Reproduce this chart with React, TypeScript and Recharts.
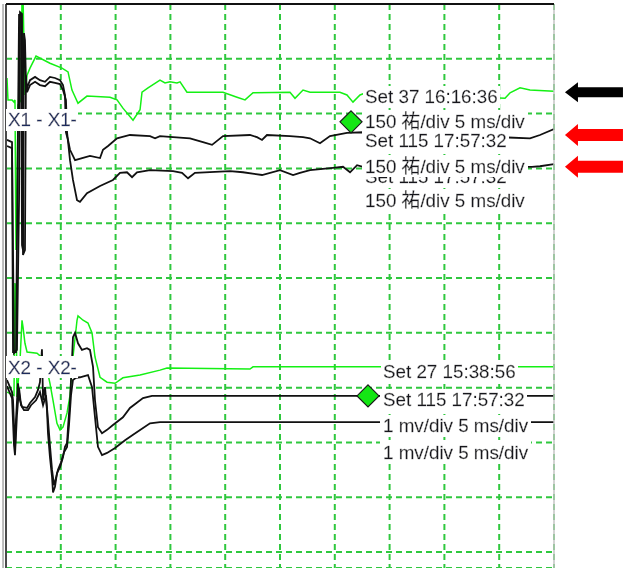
import { LineChart, Line, XAxis, YAxis, CartesianGrid, ReferenceLine, ReferenceDot } from "recharts";

// time in ms (5 ms/div), amplitude in divisions
const timeTicks = [5, 10, 15, 20, 25, 30, 35, 40, 45];
const divTicks = [0, 1, 2, 3, 4, 5, 6, 7, 8, 9];

const x1Green: [number, number][] = [
  [0.09, 8.65], [0.18, 8.25], [0.55, 8.25], [0.73, 8.21], [0.82, 8.25], [0.91, 5.51], [1.0, 6.42], [1.09, 8.16],
  [1.37, 8.25], [1.46, 10.16], [1.55, 10.16], [1.73, 8.34], [1.92, 8.7], [2.19, 8.83], [2.74, 9.05], [4.01, 8.92],
  [5.11, 8.83], [5.66, 8.76], [6.02, 8.43], [6.57, 8.19], [7.39, 8.32], [9.49, 8.3], [10.13, 8.25], [10.67, 8.1],
  [11.59, 7.88], [12.23, 8.07], [12.41, 8.39], [12.96, 8.47], [14.05, 8.61], [14.51, 8.56], [14.96, 8.58], [15.6, 8.56],
  [15.88, 8.58], [16.51, 8.39], [19.8, 8.39], [21.08, 8.3], [21.81, 8.25], [22.54, 8.38], [25.91, 8.39], [26.37, 8.28],
  [27.1, 8.43], [27.74, 8.39], [30.47, 8.39], [31.11, 8.34], [31.66, 8.21], [32.3, 8.34], [32.94, 8.39], [45.53, 8.28],
  [45.99, 8.38], [46.9, 8.47], [47.81, 8.43], [50, 8.41],
];

const x1BlackA: [number, number][] = [
  [0.09, 7.52], [0.55, 7.48], [0.64, 3.65], [0.91, 3.65], [1.09, 7.7], [1.19, 9.8], [1.37, 9.8], [1.46, 5.6],
  [1.55, 5.51], [1.64, 9.47], [1.73, 9.34], [1.82, 8.61], [1.92, 8.47], [2.19, 8.61], [2.65, 8.67], [3.1, 8.61],
  [3.56, 8.58], [4.01, 8.67], [4.47, 8.65], [4.93, 8.61], [5.2, 8.52], [5.38, 8.34], [5.47, 7.66], [5.66, 7.52],
  [5.84, 7.34], [6.3, 7.15], [7.66, 7.23], [8.58, 7.19], [8.85, 7.34], [9.31, 7.41], [10.13, 7.55], [11.31, 7.61],
  [13.14, 7.59], [13.6, 7.55], [14.05, 7.59], [15.24, 7.57], [16.79, 7.55], [17.97, 7.48], [18.8, 7.43], [19.8, 7.59],
  [22.26, 7.61], [22.9, 7.57], [23.36, 7.52], [23.81, 7.61], [25.91, 7.59], [27.1, 7.57], [27.74, 7.55], [28.65, 7.46],
  [29.56, 7.59], [31.11, 7.65], [32.57, 7.66], [47.81, 7.55], [48.72, 7.61], [50, 7.72],
];

const x1BlackB: [number, number][] = [
  [0.09, 7.41], [0.55, 7.37], [0.73, 3.63], [1.0, 3.69], [1.19, 6.42], [1.28, 9.85], [1.46, 9.82], [1.55, 5.42],
  [1.73, 5.51], [1.82, 8.7], [1.92, 8.39], [2.19, 8.52], [2.65, 8.58], [3.1, 8.52], [3.56, 8.5], [4.01, 8.58],
  [4.47, 8.56], [4.93, 8.54], [5.2, 8.43], [5.47, 8.25], [5.57, 7.66], [5.84, 7.15], [6.11, 6.79], [6.48, 6.42],
  [6.75, 6.39], [7.39, 6.55], [8.58, 6.68], [9.76, 6.79], [10.4, 6.92], [11.04, 6.93], [11.5, 6.84], [11.95, 6.93],
  [13.14, 6.97], [15.24, 6.95], [16.06, 6.92], [16.61, 6.82], [17.24, 6.92], [20.44, 6.95], [21.62, 6.93], [23.36, 6.88],
  [25, 6.97], [26.19, 6.88], [26.82, 6.92], [27.74, 6.97], [29.84, 7.01], [30.75, 7.03], [31.39, 6.93], [32.03, 7.06],
  [32.57, 7.03], [47.99, 7.03], [48.72, 7.04], [50, 7.08],
];

const x2Green: [number, number][] = [
  [0.09, 2.92], [0.73, 2.86], [0.82, 4.91], [0.91, 4.78], [1.0, 2.83], [1.28, 3.5], [1.46, 4.23], [1.55, 4.11],
  [1.73, 3.81], [1.92, 3.65], [2.83, 3.63], [3.56, 3.5], [4.01, 3.08], [4.29, 2.77], [4.65, 2.35], [4.93, 2.23],
  [5.2, 2.28], [5.57, 2.54], [5.84, 2.86], [6.11, 3.56], [6.48, 4.23], [6.57, 4.31], [7.03, 4.23], [7.48, 4.18],
  [7.85, 4.0], [8.12, 3.56], [8.58, 3.19], [9.22, 3.1], [9.95, 3.08], [10.67, 3.18], [12.23, 3.23], [14.05, 3.32],
  [14.69, 3.36], [22.26, 3.34], [22.54, 3.38], [50, 3.38],
];

const x2BlackA: [number, number][] = [
  [0.09, 3.14], [0.55, 2.92], [0.64, 2.77], [0.82, 1.86], [0.91, 2.41], [1.09, 3.08], [1.28, 2.77], [1.46, 2.65],
  [1.92, 2.63], [2.19, 2.72], [2.65, 2.83], [2.92, 2.96], [3.1, 3.1], [3.28, 3.7], [3.38, 2.77], [3.56, 3.01],
  [3.74, 2.59], [3.83, 2.17], [4.01, 1.73], [4.2, 1.37], [4.29, 1.09], [4.47, 1.19], [4.65, 1.44], [4.93, 1.55],
  [5.2, 1.73], [5.38, 1.92], [5.57, 1.99], [5.66, 2.28], [5.84, 2.77], [6.02, 3.5], [6.11, 3.92], [6.3, 4.0],
  [6.57, 3.81], [6.93, 3.69], [7.39, 3.72], [7.66, 3.69], [7.94, 3.38], [8.12, 2.77], [8.39, 2.28], [8.76, 2.17],
  [9.22, 2.23], [9.76, 2.32], [10.67, 2.46], [11.31, 2.63], [12.5, 2.81], [13.32, 2.85], [50, 2.85],
];

const x2BlackB: [number, number][] = [
  [0.09, 3.03], [0.55, 2.81], [0.73, 1.95], [0.82, 1.77], [1.0, 2.5], [1.19, 2.99], [1.37, 2.68], [1.64, 2.59],
  [2.01, 2.59], [2.28, 2.68], [2.74, 2.77], [3.1, 2.92], [3.38, 2.68], [3.65, 2.86], [3.83, 2.41], [4.01, 1.95],
  [4.2, 1.5], [4.38, 1.22], [4.56, 1.35], [4.74, 1.5], [5.02, 1.64], [5.29, 1.82], [5.57, 1.92], [5.75, 2.32],
  [5.93, 2.86], [6.11, 3.14], [6.39, 3.18], [6.75, 3.19], [7.48, 3.23], [7.85, 3.01], [8.12, 2.46], [8.39, 1.92],
  [8.76, 1.77], [9.22, 1.81], [9.95, 1.9], [10.86, 2.04], [11.59, 2.14], [13.14, 2.35], [14.05, 2.37], [50, 2.37],
];

const channelNames = ["X1 - X1-", "X2 - X2-"];
const x1Labels = [
  "Set 37 16:16:36",
  "150 祐/div 5 ms/div",
  "Set 115 17:57:32",
  "150 祐/div 5 ms/div",
  "Set 115 17:57:32",
  "150 祐/div 5 ms/div",
];
const x2Labels = ["Set 27 15:38:56", "Set 115 17:57:32", "1 mv/div 5 ms/div", "1 mv/div 5 ms/div"];

const pts = (s: [number, number][]) => s.map(([t, v]) => ({ t, v }));

const FONT = "'Liberation Sans', Arial, 'Noto Sans CJK JP', sans-serif";
const GRID = "#2fc83e";
const TRACE_GREEN = "#14f014";
const TRACE_BLACK = "#111";

// label anchors (ms, div) at text baseline; drawn in this order so overlaps match
const x1LabelPos = [
  { i: 4, t: 32.76, v: 6.73 },
  { i: 5, t: 32.76, v: 6.3 },
  { i: 0, t: 32.76, v: 8.19 },
  { i: 1, t: 32.76, v: 7.74 },
  { i: 2, t: 32.76, v: 7.39 },
  { i: 3, t: 32.76, v: 6.92 },
];
const x2LabelPos = [
  { i: 0, t: 34.4, v: 3.18 },
  { i: 1, t: 34.4, v: 2.66 },
  { i: 2, t: 34.4, v: 2.19 },
  { i: 3, t: 34.4, v: 1.7 },
];

const boxedText = (text: string, color = "#16161c") => (p: any) => (
  <text
    x={p.cx}
    y={p.cy}
    fill={color}
    stroke={color}
    strokeWidth={0.3}
    fontSize={18.8}
    fontFamily={FONT}
    filter="url(#textBg)"
  >
    {text}
  </text>
);

const diamond = (p: any) => (
  <polygon
    points={`${p.cx},${p.cy - 11} ${p.cx + 11},${p.cy} ${p.cx},${p.cy + 11} ${p.cx - 11},${p.cy}`}
    fill="#14e614"
    stroke="#1a1a1a"
    strokeWidth={1.2}
  />
);

const arrow = (color: string, head: number, shaft: number) => (p: any) => {
  const { cx, cy } = p;
  return (
    <polygon
      points={`${cx},${cy} ${cx + 13},${cy - head} ${cx + 13},${cy - shaft} ${cx + 58},${cy - shaft} ${cx + 58},${cy + shaft} ${cx + 13},${cy + shaft} ${cx + 13},${cy + head}`}
      fill={color}
    />
  );
};

export default function App() {
  const series = [
    { data: x1Green, color: TRACE_GREEN, w: 1.5 },
    { data: x2Green, color: TRACE_GREEN, w: 1.5 },
    { data: x1BlackA, color: TRACE_BLACK, w: 1.8 },
    { data: x1BlackB, color: TRACE_BLACK, w: 1.8 },
    { data: x2BlackA, color: TRACE_BLACK, w: 1.8 },
    { data: x2BlackB, color: TRACE_BLACK, w: 1.8 },
  ];

  return (
    <div style={{ position: "absolute", left: 0, top: 0, background: "#fff" }}>
      <LineChart width={624} height={568} margin={{ top: 4, right: 70, bottom: 0, left: 6 }}>
        <defs>
          <filter id="textBg" x="-0.015" y="0" width="1.03" height="1">
            <feFlood floodColor="#ffffff" />
            <feComposite in="SourceGraphic" operator="over" />
          </filter>
        </defs>
        <CartesianGrid stroke={GRID} strokeWidth={2} strokeDasharray="6 4" />
        <XAxis dataKey="t" type="number" domain={[0, 50]} ticks={timeTicks} hide allowDataOverflow />
        <YAxis dataKey="v" type="number" domain={[-0.29, 10]} ticks={divTicks} hide allowDataOverflow />
        {series.map((s, k) => (
          <Line
            key={k}
            data={pts(s.data)}
            dataKey="v"
            type="linear"
            stroke={s.color}
            strokeWidth={s.w}
            dot={false}
            activeDot={false}
            isAnimationActive={false}
          />
        ))}

        <ReferenceLine x={0} stroke="#4a4a4a" strokeWidth={2} />
        <ReferenceLine x={-0.27} stroke="#a8a8a8" strokeWidth={1.5} ifOverflow="visible" />
        <ReferenceLine x={50} stroke="#c4c4c4" strokeWidth={1.5} />
        <ReferenceLine y={10} stroke="#111" strokeWidth={2} />

        {x1LabelPos.map((l, k) => (
          <ReferenceDot key={`a${k}`} x={l.t} y={l.v} r={0} shape={boxedText(x1Labels[l.i])} />
        ))}
        {x2LabelPos.map((l, k) => (
          <ReferenceDot key={`b${k}`} x={l.t} y={l.v} r={0} shape={boxedText(x2Labels[l.i])} />
        ))}
        <ReferenceDot x={0.18} y={7.77} r={0} shape={boxedText(channelNames[0], "#1c2c5c")} />
        <ReferenceDot x={0.18} y={3.25} r={0} shape={boxedText(channelNames[1], "#1c2c5c")} />

        <ReferenceDot x={31.48} y={7.85} r={0} shape={diamond} />
        <ReferenceDot x={33.03} y={2.85} r={0} shape={diamond} />

        <ReferenceDot x={51.0} y={8.39} r={0} ifOverflow="visible" shape={arrow("#000", 10, 5)} />
        <ReferenceDot x={51.0} y={7.61} r={0} ifOverflow="visible" shape={arrow("#ff0000", 11, 6)} />
        <ReferenceDot x={51.0} y={7.03} r={0} ifOverflow="visible" shape={arrow("#ff0000", 11, 6)} />
      </LineChart>
    </div>
  );
}
